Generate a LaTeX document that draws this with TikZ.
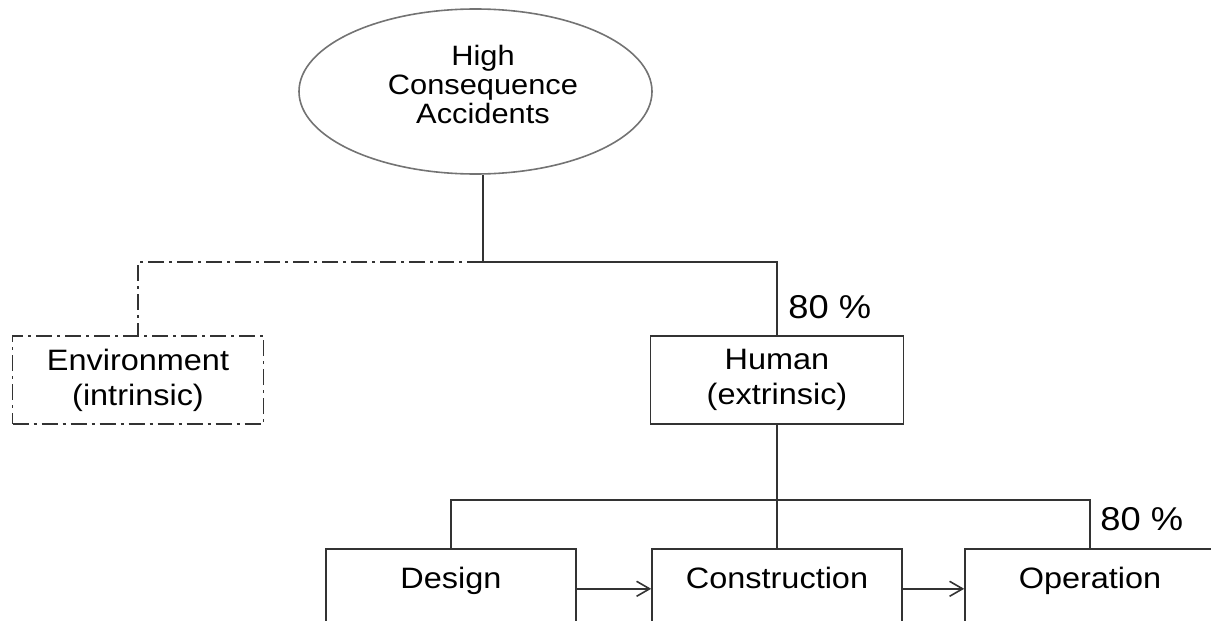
\documentclass[tikz,border=0pt]{standalone}
\usepackage{fontspec}
\setmainfont[FakeStretch=1.1]{Liberation Sans}
\usetikzlibrary{shapes.geometric,arrows.meta}
\newcommand\boxfont{\fontsize{14.75pt}{17.5pt}\selectfont}
\newcommand\ellfont{\fontsize{14pt}{14.5pt}\selectfont}
\newcommand\pctfont{\fontsize{16.5pt}{19pt}\selectfont}
\begin{document}
\begin{tikzpicture}[x=0.5pt,y=-0.5pt,
  conn/.style={draw=black!80, line width=0.8pt},
  dashdot/.style={dash pattern=on 8pt off 2.5pt on 1.5pt off 2.5pt},
  box/.style={draw=black!80, line width=0.8pt, inner sep=0pt, align=center, font=\boxfont},
  stepbox/.style={box, anchor=north, minimum width=125pt, text height=10.5pt, text depth=60pt, inner ysep=9.5pt},
  pct/.style={font=\pctfont, inner sep=0pt, anchor=base west},
  arr/.style={conn, -{Straight Barb[length=6.5pt,width=7.5pt]}}]
\useasboundingbox (0,0) rectangle (1211,621);
\clip (0,0) rectangle (1211,621);
% top ellipse
\node[ellipse, draw=black!55, line width=0.8pt, minimum width=176.5pt, minimum height=82.5pt, inner sep=0pt] (acc) at (475.5,91.5) {};
\node[align=center, font=\ellfont, inner sep=0pt] (acctext) at (483,84) {High\\Consequence\\Accidents};
% second level
\node[box, dashdot, minimum width=125.5pt, minimum height=44pt] (env) at (138,380) {Environment\\(intrinsic)};
\node[box, minimum width=126.5pt, minimum height=44pt] (human) at (777,380) {Human\\(extrinsic)};
\node[pct] (pct1) at (788,318) {80 \%};
% third level
\node[stepbox] (design) at (451,548) {Design};
\node[stepbox] (construction) at (777,548) {Construction};
\node[stepbox] (operation) at (1090,548) {Operation};
\node[pct] (pct2) at (1100,530) {80 \%};
% connectors
\coordinate (j1) at (483,262);
\coordinate (j2) at (777,500);
\draw[conn] (acc.south -| j1) -- (j1);
\draw[conn, dashdot] (j1) -- (env.north |- j1) -- (env.north);
\draw[conn] (j1) -| (human.north);
\draw[conn] (human.south) -- (construction.north);
\draw[conn] (design.north) |- (operation.north |- j2) -- (operation.north);
\draw[arr] (design.base east) -- (construction.base west);
\draw[arr] (construction.base east) -- (operation.base west);
\end{tikzpicture}
\end{document}
